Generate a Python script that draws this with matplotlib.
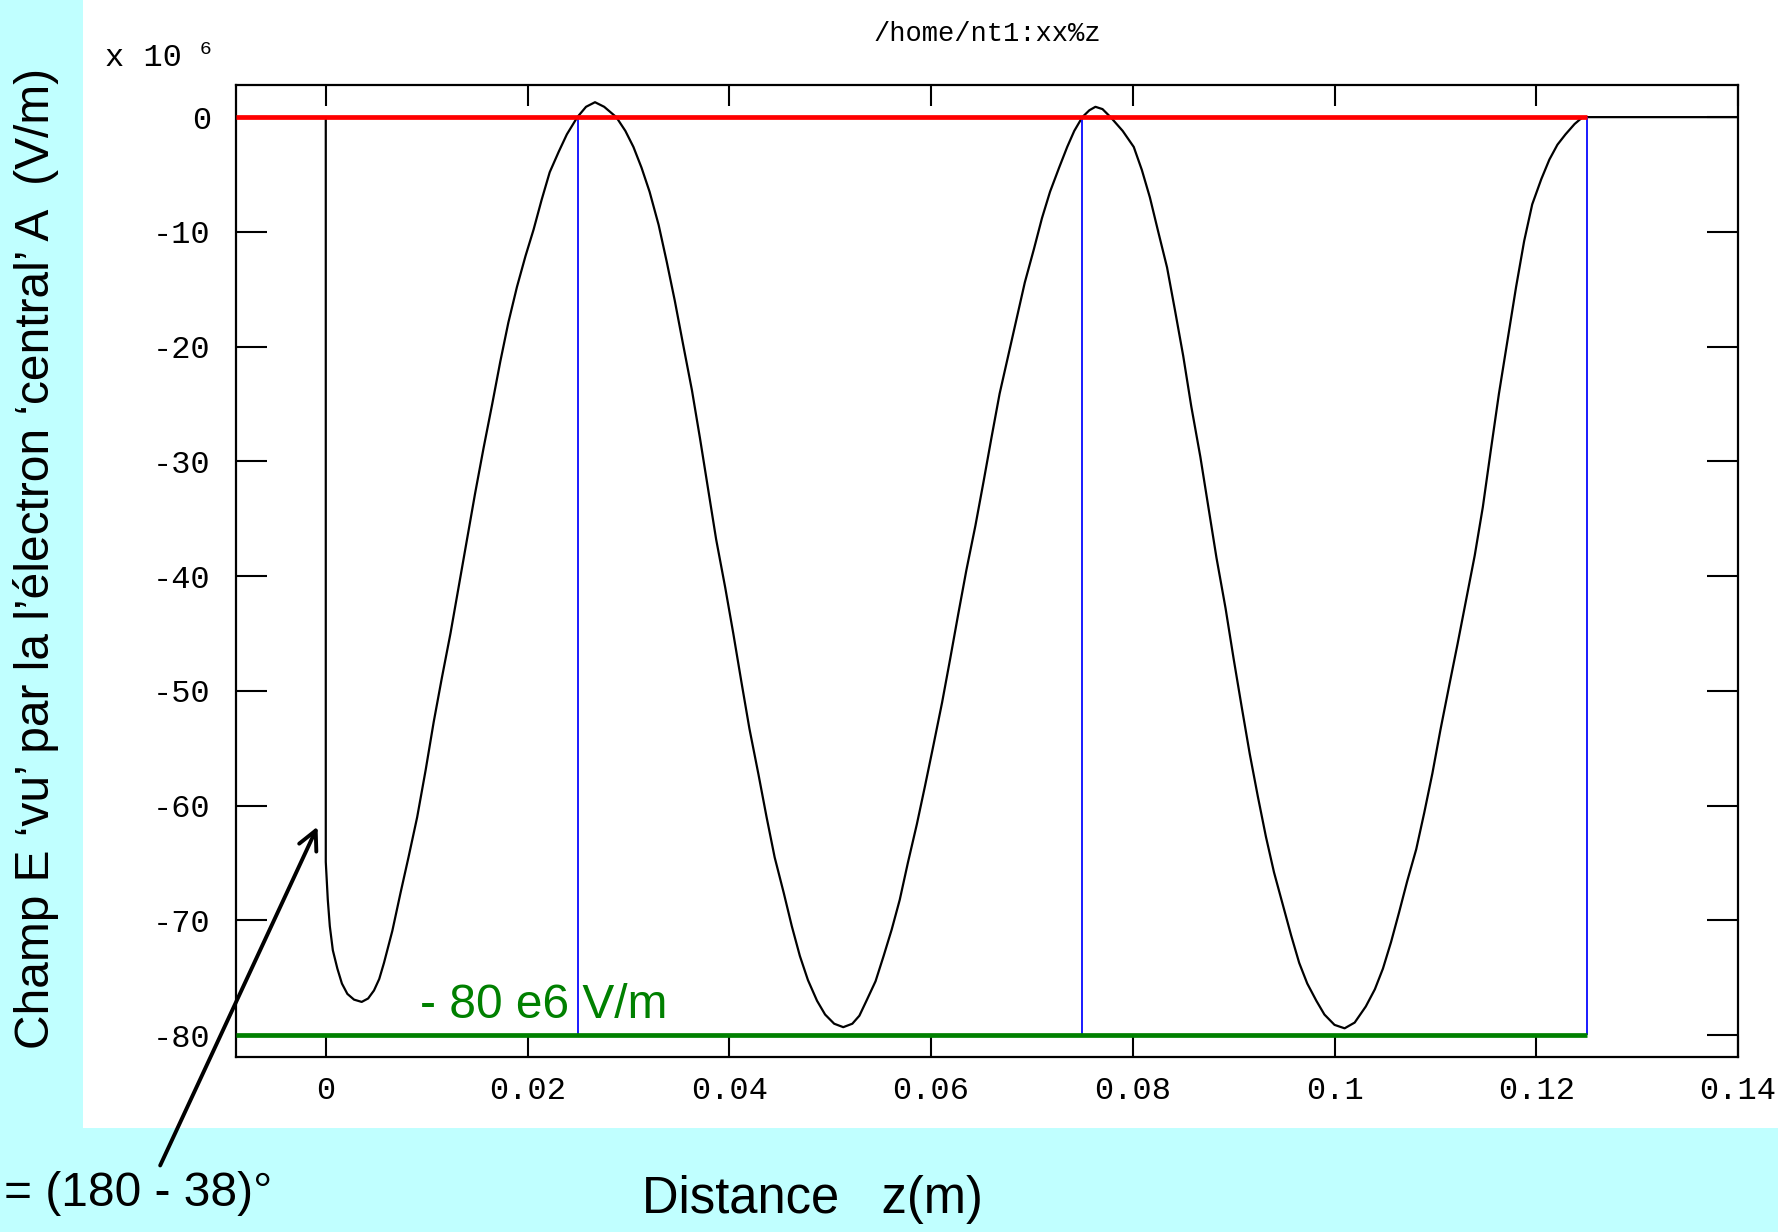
import numpy as np
import matplotlib.pyplot as plt
from matplotlib.patches import Rectangle

# champ E vu par l'electron central (x 1e6 V/m) le long de z (m)
z = [-0.0089, 0.0, 0.0, 0.0001, 0.0002, 0.0004, 0.0007, 0.00115, 0.0016, 0.00214,
     0.0028, 0.00356, 0.0042, 0.00478, 0.0053, 0.00577, 0.0066, 0.00741, 0.0082, 0.00906,
     0.0099, 0.0107, 0.0115, 0.01236, 0.0132, 0.0140, 0.0148, 0.01565, 0.0165, 0.0173,
     0.0181, 0.01895, 0.0198, 0.0206, 0.0214, 0.0222, 0.0231, 0.0239, 0.02494, 0.0258,
     0.02669, 0.0276, 0.0288, 0.0297, 0.0305, 0.0313, 0.0321, 0.0330, 0.0338, 0.0346,
     0.0354, 0.0363, 0.0371, 0.0379, 0.0387, 0.0396, 0.0404, 0.0412, 0.0420, 0.0429,
     0.0437, 0.0445, 0.0454, 0.0462, 0.0470, 0.0478, 0.0487, 0.0495, 0.0504, 0.0513,
     0.0522, 0.0529, 0.0536, 0.0545, 0.0553, 0.0561, 0.0569, 0.0577, 0.0586, 0.0594,
     0.0602, 0.0611, 0.0619, 0.0627, 0.0635, 0.0644, 0.0652, 0.0660, 0.0668, 0.0677,
     0.0685, 0.0693, 0.0702, 0.0710, 0.0718, 0.0727, 0.0735, 0.0742, 0.0750, 0.0757,
     0.0763, 0.0770, 0.0778, 0.0790, 0.0801, 0.0809, 0.0817, 0.0825, 0.0834, 0.0842,
     0.0850, 0.0858, 0.0867, 0.0875, 0.0883, 0.0892, 0.0900, 0.0908, 0.0916, 0.0924,
     0.0932, 0.0940, 0.0949, 0.0957, 0.0965, 0.0973, 0.0982, 0.0990, 0.1000, 0.1010,
     0.1020, 0.1031, 0.1040, 0.1048, 0.1056, 0.1064, 0.1072, 0.1081, 0.1089, 0.1097,
     0.1105, 0.1114, 0.1122, 0.1130, 0.1139, 0.1147, 0.1155, 0.1163, 0.1172, 0.1180,
     0.1188, 0.1196, 0.1205, 0.1213, 0.1221, 0.1229, 0.1238, 0.1246, 0.1250, 0.14]
champ = [0.0, 0.0, -64.9, -66.5, -68.2, -70.5, -72.6, -74.2, -75.5, -76.4,
         -76.9, -77.1, -76.8, -76.1, -75.1, -73.7, -70.9, -67.6, -64.5, -61.0,
         -56.9, -52.7, -48.9, -45.0, -40.8, -36.8, -32.8, -28.8, -25.0, -21.3,
         -17.9, -14.8, -12.1, -9.8, -7.2, -4.8, -3.0, -1.5, 0.0, 0.9,
         1.3, 0.9, 0.0, -1.2, -2.6, -4.4, -6.5, -9.4, -12.6, -16.0,
         -19.7, -23.8, -28.0, -32.4, -36.8, -41.0, -45.0, -49.2, -53.3, -57.3,
         -61.0, -64.5, -67.6, -70.5, -73.1, -75.2, -77.0, -78.2, -79.0, -79.3,
         -79.0, -78.3, -77.0, -75.3, -73.1, -70.8, -68.2, -65.0, -61.6, -58.3,
         -54.9, -51.0, -47.2, -43.3, -39.5, -35.6, -31.8, -27.9, -24.1, -20.6,
         -17.5, -14.4, -11.5, -8.8, -6.5, -4.4, -2.6, -1.2, 0.0, 0.6,
         0.9, 0.7, 0.0, -1.2, -2.6, -4.6, -7.0, -9.9, -13.1, -16.9,
         -20.8, -25.2, -29.6, -34.0, -38.4, -42.8, -47.2, -51.4, -55.5, -59.2,
         -62.7, -65.8, -68.7, -71.3, -73.7, -75.5, -77.0, -78.2, -79.1, -79.4,
         -78.9, -77.5, -76.0, -74.2, -71.9, -69.3, -66.6, -63.8, -60.6, -57.2,
         -53.4, -49.4, -45.9, -42.3, -38.2, -34.0, -29.0, -24.1, -19.2, -14.8,
         -10.8, -7.6, -5.4, -3.7, -2.4, -1.5, -0.6, 0.0, 0.0, 0.0]

x_ticks = [0, 0.02, 0.04, 0.06, 0.08, 0.10, 0.12, 0.14]
x_tick_labels = ['0', '0.02', '0.04', '0.06', '0.08', '0.1', '0.12', '0.14']
y_ticks = [0, -10, -20, -30, -40, -50, -60, -70, -80]
y_tick_labels = ['0', '-10', '-20', '-30', '-40', '-50', '-60', '-70', '-80']

phase_z = [0.025, 0.075, 0.125]   # traits bleus
e_haut = 0.0
e_bas = -80.0
z_fin = 0.125

W, H = 1778, 1232
fig = plt.figure(figsize=(W / 100, H / 100), dpi=100)
fig.patch.set_facecolor('#c0ffff')
fig.add_artist(Rectangle((83 / W, 1 - 1128 / H), 1, 1128 / H, transform=fig.transFigure,
                         facecolor='white', edgecolor='none', zorder=-1))

ax = fig.add_axes([236 / W, 1 - 1057 / H, (1738 - 236) / W, (1057 - 85) / H])
x0, x1 = -0.0089, 0.14
ax.set_xlim(x0, x1)
ax.set_ylim(-81.9, 2.8)

ax.plot(z, champ, color='black', lw=1.6, zorder=2)
ax.vlines(phase_z, e_bas, e_haut, color='#1a1aff', lw=1.4, zorder=3)
ax.hlines(e_haut, x0, z_fin, color='red', lw=3.4, zorder=4)
ax.hlines(e_bas, x0, z_fin, color='#008000', lw=3.4, zorder=4)

mono = 'Liberation Mono'
ax.set_xticks(x_ticks)
ax.set_xticklabels(x_tick_labels, family=mono, fontsize=23)
ax.set_yticks(y_ticks)
ax.set_yticklabels(y_tick_labels, family=mono, fontsize=23)
ax.tick_params(axis='x', direction='in', length=15, width=1.5, top=True, pad=14)
ax.tick_params(axis='y', direction='in', length=22, width=1.5, right=True, pad=18)
for s in ax.spines.values():
    s.set_linewidth(1.6)

fig.text(987 / W, 1 - 34 / H, '/home/nt1:xx%z', ha='center', va='center', family=mono, fontsize=19.5)
fig.text(105 / W, 1 - 58 / H, 'x 10', ha='left', va='center', family=mono, fontsize=23)
fig.text(200 / W, 1 - 49 / H, '6', ha='left', va='center', family=mono, fontsize=14)

fig.text(36 / W, 1 - 558 / H, 'Champ E \u2018vu\u2019 par la l\u2019\u00e9lectron \u2018central\u2019 A  (V/m)',
         rotation=90, ha='center', va='center', family='Liberation Sans', fontsize=34.5)
fig.text(812 / W, 1 - 1199 / H, 'Distance   z(m)', ha='center', va='center',
         family='Liberation Sans', fontsize=36.5)
fig.text(420 / W, 1 - 1005 / H, '- 80 e6 V/m', ha='left', va='center', color='#008000',
         family='Liberation Sans', fontsize=34.5)
fig.text(4 / W, 1 - 1193 / H, '= (180 - 38)\u00b0', ha='left', va='center',
         family='Liberation Sans', fontsize=34.5)

ax.annotate('', xy=(-0.0007, -61.6), xycoords='data',
            xytext=(159, H - 1168), textcoords='figure pixels',
            arrowprops=dict(arrowstyle='->', lw=2.8, color='black', mutation_scale=34),
            annotation_clip=False)

fig.savefig('out.png', dpi=100, facecolor=fig.get_facecolor())
